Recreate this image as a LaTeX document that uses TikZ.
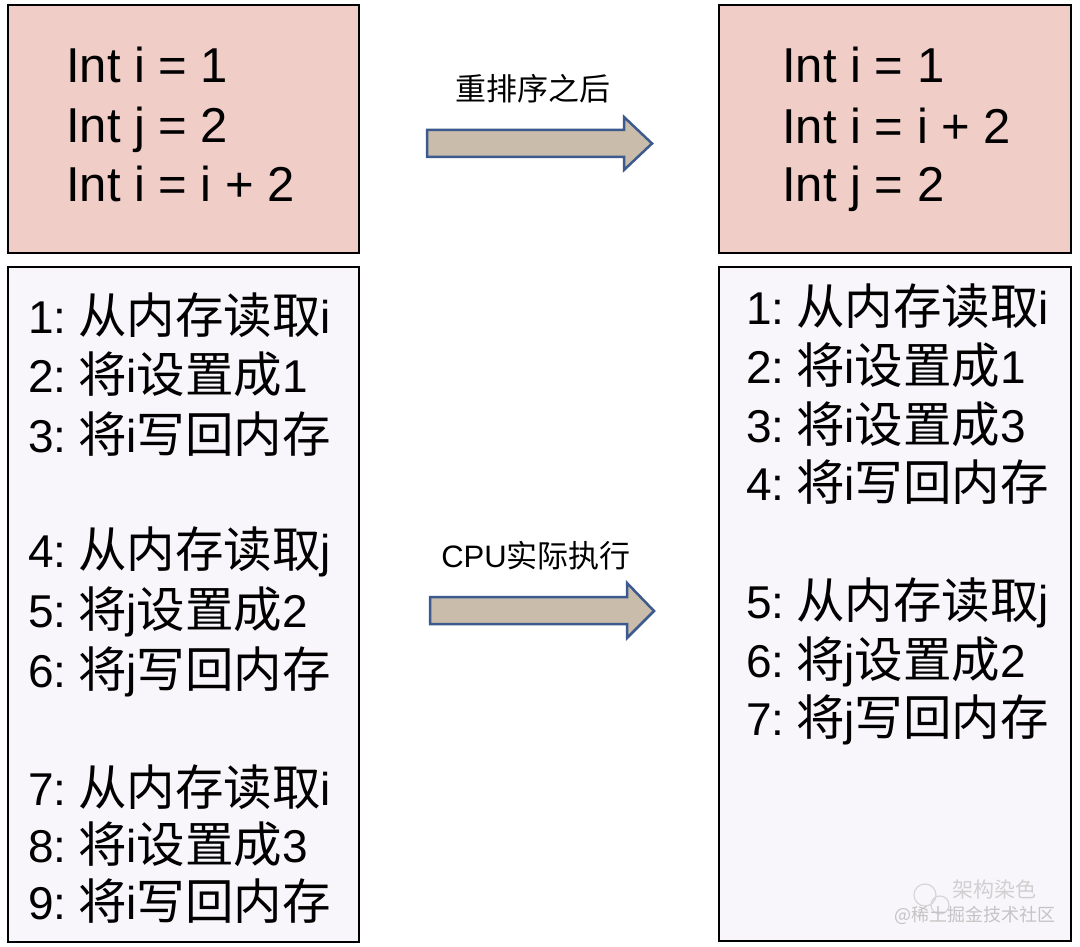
\documentclass[tikz,border=0pt]{standalone}
\usepackage{fontspec}
\setmainfont{Liberation Sans}
\newfontfamily\cjk{Noto Sans CJK SC}
\newcommand\zh[1]{{\cjk\fontsize{48.5}{48.5}\selectfont #1}}
\newcommand\sn[1]{#1:\hspace{11.5pt}}
\definecolor{topfill}{HTML}{F0CDC6}
\definecolor{lowfill}{HTML}{F8F6FA}
\definecolor{arrfill}{HTML}{C9BCAA}
\definecolor{arrline}{HTML}{3D5A8E}
\definecolor{wmark}{HTML}{C4C4C4}
\begin{document}
\begin{tikzpicture}[x=1pt,y=-1pt,
  topbox/.style={draw=black,line width=2pt,fill=topfill},
  lowbox/.style={draw=black,line width=2pt,fill=lowfill},
  codeln/.style={anchor=base west,inner sep=0pt,font=\fontsize{49}{49}\selectfont},
  stepln/.style={anchor=base west,inner sep=0pt,font=\fontsize{46}{46}\selectfont},
  arrlabel/.style={inner sep=0pt,font=\fontsize{31}{31}\selectfont},
  blockarrow/.style={draw=arrline,line width=2.5pt,fill=arrfill,line join=miter}]
\useasboundingbox (0,0) rectangle (1080,947);
\fill[white] (0,0) rectangle (1080,947);

% boxes
\draw[topbox] (8,5) rectangle (359,253);
\draw[lowbox] (8,267) rectangle (359,942);
\draw[topbox] (719,5) rectangle (1071,253);
\draw[lowbox] (719,267) rectangle (1071,941);

% top-left code
\node[codeln] (a1) at (66,83) {Int i = 1};
\node[codeln] (a2) at (66,143) {Int j = 2};
\node[codeln] (a3) at (66,202) {Int i = i + 2};

% top-right code
\node[codeln] (b1) at (782,83) {Int i = 1};
\node[codeln] (b2) at (782,144) {Int i = i + 2};
\node[codeln] (b3) at (782,202) {Int j = 2};

% left steps
\node[stepln] (l1) at (28,333) {\sn{1}\zh{从内存读取}i};
\node[stepln] (l2) at (28,392) {\sn{2}\zh{将}i\zh{设置成}1};
\node[stepln] (l3) at (28,452) {\sn{3}\zh{将}i\zh{写回内存}};
\node[stepln] (l4) at (28,567) {\sn{4}\zh{从内存读取}j};
\node[stepln] (l5) at (28,627) {\sn{5}\zh{将}j\zh{设置成}2};
\node[stepln] (l6) at (28,687) {\sn{6}\zh{将}j\zh{写回内存}};
\node[stepln] (l7) at (28,805) {\sn{7}\zh{从内存读取}i};
\node[stepln] (l8) at (28,862) {\sn{8}\zh{将}i\zh{设置成}3};
\node[stepln] (l9) at (28,919) {\sn{9}\zh{将}i\zh{写回内存}};

% right steps
\node[stepln] (r1) at (746,324) {\sn{1}\zh{从内存读取}i};
\node[stepln] (r2) at (746,383) {\sn{2}\zh{将}i\zh{设置成}1};
\node[stepln] (r3) at (746,442) {\sn{3}\zh{将}i\zh{设置成}3};
\node[stepln] (r4) at (746,500) {\sn{4}\zh{将}i\zh{写回内存}};
\node[stepln] (r5) at (746,618) {\sn{5}\zh{从内存读取}j};
\node[stepln] (r6) at (746,677) {\sn{6}\zh{将}j\zh{设置成}2};
\node[stepln] (r7) at (746,735) {\sn{7}\zh{将}j\zh{写回内存}};

% arrows
\draw[blockarrow] (427,130) -- (624,130) -- (624,117) -- (652,143.5) -- (624,170) -- (624,157) -- (427,157) -- cycle;
\node[arrlabel] (t1) at (533,89) {\cjk 重排序之后};
\draw[blockarrow] (430,597) -- (627,597) -- (627,583) -- (654,611) -- (627,638) -- (627,624) -- (430,624) -- cycle;
\node[arrlabel] (t2) at (536,556) {CPU{\cjk 实际执行}};

% watermark
\draw[wmark!70,line width=1.2pt] (925,895) circle (11);
\draw[wmark!70,line width=1.2pt] (940,905) circle (9);
\node[inner sep=0pt,font=\fontsize{21}{21}\selectfont\cjk,text=wmark!80] (w1) at (994,889) {架构染色};
\node[inner sep=0pt,font=\fontsize{18}{18}\selectfont\cjk,text=wmark] (w2) at (975,915) {@稀土掘金技术社区};
\end{tikzpicture}
\end{document}
